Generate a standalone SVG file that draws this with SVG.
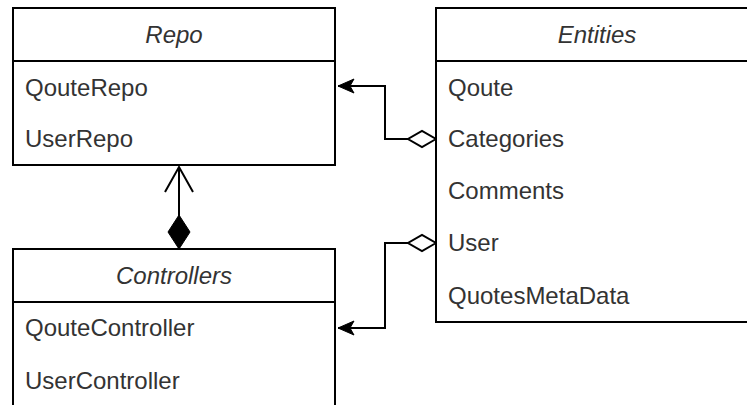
<svg xmlns="http://www.w3.org/2000/svg" width="747" height="405" viewBox="0 0 747 405">
  <style>
    .box { fill: #ffffff; stroke: #000000; stroke-width: 2; }
    .div { stroke: #000000; stroke-width: 2; }
    .title { font-family: "Liberation Sans", Arial, sans-serif; font-size: 24px; font-style: italic; fill: #333333; text-anchor: middle; }
    .item { font-family: "Liberation Sans", Arial, sans-serif; font-size: 24px; fill: #333333; }
    .conn { fill: none; stroke: #000000; stroke-width: 2; }
  </style>
  <defs>
    <marker id="arrowFilled" markerUnits="userSpaceOnUse" viewBox="-2 -10 20 20" markerWidth="20" markerHeight="20" refX="16" refY="0" orient="auto" overflow="visible">
      <path d="M16,0 L0,7 L4,0 L0,-7 Z" fill="#000000" stroke="#000000" stroke-width="1"/>
    </marker>
    <marker id="diamondOpen" markerUnits="userSpaceOnUse" viewBox="-2 -10 32 20" markerWidth="32" markerHeight="20" refX="0" refY="0" orient="auto" overflow="visible">
      <path d="M0,0 L14,-8 L28,0 L14,8 Z" fill="#ffffff" stroke="#000000" stroke-width="2"/>
    </marker>
    <marker id="diamondFilled" markerUnits="userSpaceOnUse" viewBox="-2 -13 38 26" markerWidth="38" markerHeight="26" refX="0" refY="0" orient="auto" overflow="visible">
      <path d="M0,0 L17,-11 L34,0 L17,11 Z" fill="#000000" stroke="#000000" stroke-width="1"/>
    </marker>
    <marker id="arrowOpen" markerUnits="userSpaceOnUse" viewBox="-30 -16 34 32" markerWidth="34" markerHeight="32" refX="0" refY="0" orient="auto" overflow="visible">
      <path d="M-25,-14 L0,0 L-25,14" fill="none" stroke="#000000" stroke-width="2"/>
    </marker>
  </defs>

  <g id="connectors">
    <path class="conn" d="M436,139 H385 V86 H338" marker-start="url(#diamondOpen)" marker-end="url(#arrowFilled)"/>
    <path class="conn" d="M436,243 H385 V328 H338" marker-start="url(#diamondOpen)" marker-end="url(#arrowFilled)"/>
    <path class="conn" d="M179,249 V167" marker-start="url(#diamondFilled)" marker-end="url(#arrowOpen)"/>
  </g>

  <g id="repo">
    <rect class="box" x="13" y="8" width="322" height="157"/>
    <line class="div" x1="13" y1="61" x2="335" y2="61"/>
    <text class="title" x="174" y="43">Repo</text>
    <text class="item" x="25" y="96">QouteRepo</text>
    <text class="item" x="25" y="147">UserRepo</text>
  </g>

  <g id="entities">
    <rect class="box" x="436" y="8" width="322" height="314"/>
    <line class="div" x1="436" y1="61" x2="758" y2="61"/>
    <text class="title" x="597" y="43">Entities</text>
    <text class="item" x="448" y="96">Qoute</text>
    <text class="item" x="448" y="147">Categories</text>
    <text class="item" x="448" y="199">Comments</text>
    <text class="item" x="448" y="251">User</text>
    <text class="item" x="448" y="304">QuotesMetaData</text>
  </g>

  <g id="controllers">
    <rect class="box" x="13" y="249" width="322" height="200"/>
    <line class="div" x1="13" y1="302" x2="335" y2="302"/>
    <text class="title" x="174" y="284">Controllers</text>
    <text class="item" x="25" y="336">QouteController</text>
    <text class="item" x="25" y="389">UserController</text>
  </g>
</svg>
